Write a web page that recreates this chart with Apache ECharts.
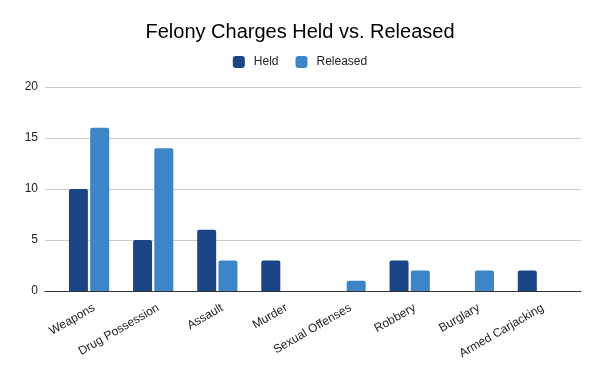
<!DOCTYPE html>
<html><head><meta charset="utf-8">
<script src="https://cdn.jsdelivr.net/npm/echarts@6/dist/echarts.min.js"></script>
<style>html,body{margin:0;padding:0;background:#fff}#c{width:600px;height:371px}</style>
</head><body><div id="c"></div>
<script>
const categories = ['Weapons','Drug Possession','Assault','Murder','Sexual Offenses','Robbery','Burglary','Armed Carjacking'];
const held = [10,5,6,3,0,3,0,2];
const released = [16,14,3,0,1,2,2,0];
const yTicks = [0,5,10,15,20];

const chart = echarts.init(document.getElementById('c'));
const font = 'Arial, "Liberation Sans", sans-serif';
const labelShift = 5;
chart.setOption({
  animation:false,
  backgroundColor:'#fff',
  title:{text:'Felony Charges Held vs. Released',left:'center',top:17,
    textStyle:{fontFamily:font,fontSize:20,fontWeight:'normal',color:'#000'}},
  legend:{top:51,left:'center',itemWidth:12,itemHeight:12,itemGap:17,icon:'roundRect',
    itemStyle:{borderRadius:2},
    textStyle:{fontFamily:font,fontSize:12,color:'#222',padding:[0,0,0,4]},data:['Held','Released']},
  grid:[{left:45,right:19,top:87,bottom:80},{left:57,right:30,top:87,bottom:80},
        {left:57+labelShift,right:30-labelShift,top:87,bottom:80}],
  xAxis:[
    {gridIndex:0,type:'value',min:0,max:1,axisLine:{show:true,onZero:false,lineStyle:{color:'#333',width:1}},
     axisTick:{show:false},axisLabel:{show:false},splitLine:{show:false}},
    {gridIndex:1,type:'category',data:categories,axisLine:{show:false},axisTick:{show:false},
     axisLabel:{show:false}},
    {gridIndex:2,type:'category',data:categories,axisLine:{show:false},axisTick:{show:false},
     axisLabel:{rotate:30,interval:0,margin:16,fontFamily:font,fontSize:12,color:'#222'}}
  ],
  yAxis:[
    {gridIndex:0,type:'value',min:yTicks[0],max:yTicks[yTicks.length-1],interval:5,
     axisLine:{show:false},axisTick:{show:false},
     axisLabel:{fontFamily:font,fontSize:12,color:'#222',margin:7},
     splitLine:{lineStyle:{color:'#cccccc',width:1}}},
    {gridIndex:1,type:'value',min:0,max:20,show:false,splitLine:{show:false}},
    {gridIndex:2,type:'value',min:0,max:20,show:false,splitLine:{show:false}}
  ],
  series:[
    {name:'Held',type:'bar',xAxisIndex:1,yAxisIndex:1,data:held,barWidth:19,barGap:'12%',
     itemStyle:{color:'#1c4587',borderRadius:[2,2,0,0]}},
    {name:'Released',type:'bar',xAxisIndex:1,yAxisIndex:1,data:released,barWidth:19,barGap:'12%',
     itemStyle:{color:'#3d85c6',borderRadius:[2,2,0,0]}}
  ]
});
</script></body></html>
